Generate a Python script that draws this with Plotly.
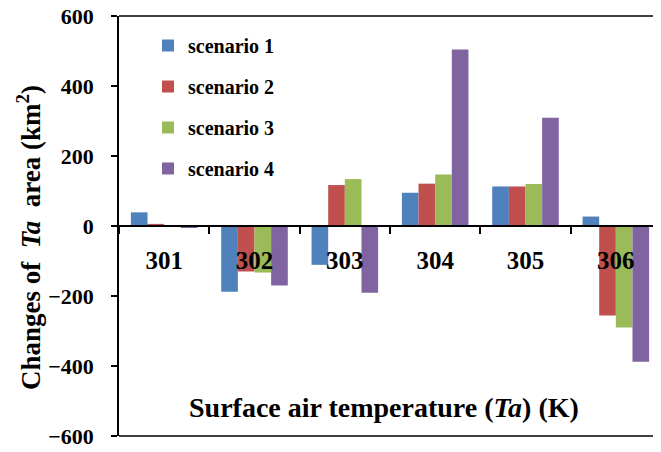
import plotly.graph_objects as go

categories = ["301", "302", "303", "304", "305", "306"]
scenario1 = [39, -188, -111, 95, 113, 27]
scenario2 = [6, -130, 117, 121, 113, -256]
scenario3 = [0, -133, 134, 147, 120, -290]
scenario4 = [-5, -170, -191, 504, 309, -388]
series_names = ["scenario 1", "scenario 2", "scenario 3", "scenario 4"]
series_values = [scenario1, scenario2, scenario3, scenario4]
colors = ["#4F81BD", "#C0504D", "#9BBB59", "#8064A2"]
y_ticks = [-600, -400, -200, 0, 200, 400, 600]

FONT = "Liberation Serif, Times New Roman, serif"

# page body has an 8px default margin; compensate in figure size/margins
W, H = 653, 444
ML, MT, MB = 111, 8, 16
PH = H - MT - MB


def px_y(py):
    return (H - MB - (py - 8)) / PH


def px_x(px):
    return (px - 8 - ML) / (W - ML)


fig = go.Figure()
for name, vals, col in zip(series_names, series_values, colors):
    fig.add_trace(go.Bar(
        x=categories, y=vals, name=name, legendgroup=name,
        marker=dict(color=col, line=dict(width=0)),
    ))

fig.update_layout(
    width=W, height=H,
    margin=dict(l=ML, r=0, t=MT, b=MB, autoexpand=False),
    paper_bgcolor="white", plot_bgcolor="white",
    barmode="group", bargap=0.263, bargroupgap=0,
    font=dict(family=FONT, color="black", weight="bold"),
    showlegend=True,
    legend=dict(
        x=px_x(148), y=px_y(26), xanchor="left", yanchor="top",
        bgcolor="rgba(0,0,0,0)", borderwidth=0,
        font=dict(family=FONT, size=20, color="black", weight="bold"),
        tracegroupgap=12, traceorder="grouped",
    ),
    xaxis=dict(
        type="category", anchor="free", position=0.5,
        showline=True, linecolor="black", linewidth=1.5,
        ticks="outside", tickson="boundaries", ticklen=7, tickcolor="black", tickwidth=1.5,
        ticklabelstandoff=12,
        tickfont=dict(family=FONT, size=25, color="black", weight="bold"),
        showgrid=False, zeroline=False,
    ),
    yaxis=dict(
        range=[-600, 600], tickvals=y_ticks,
        ticks="outside", ticklen=6, tickcolor="black", tickwidth=1.5,
        ticklabelstandoff=13, ticklabeloverflow="allow",
        showline=True, linecolor="black", linewidth=1.5,
        showgrid=False, zeroline=False,
        tickfont=dict(family=FONT, size=22, color="black", weight="bold"),
    ),
    shapes=[
        dict(type="line", xref="x domain", yref="y domain", x0=0, x1=1, y0=1, y1=1,
             line=dict(color="black", width=1.5)),
        dict(type="line", xref="x domain", yref="y domain", x0=0, x1=1, y0=0, y1=0,
             line=dict(color="black", width=1.5)),
    ],
    annotations=[
        dict(text="Surface air temperature (<i>Ta</i>) (K)", xref="paper", yref="paper",
             x=px_x(384), y=px_y(407), xanchor="center", yanchor="middle",
             showarrow=False, font=dict(family=FONT, size=28, color="black", weight="bold")),
        dict(text="Changes of  <i>Ta</i>  area (km<sup>2</sup>)", xref="paper", yref="paper",
             x=px_x(29), y=px_y(238), xanchor="center", yanchor="middle",
             textangle=-90, showarrow=False,
             font=dict(family=FONT, size=27, color="black", weight="bold")),
    ],
)

fig.write_html("out.html")
